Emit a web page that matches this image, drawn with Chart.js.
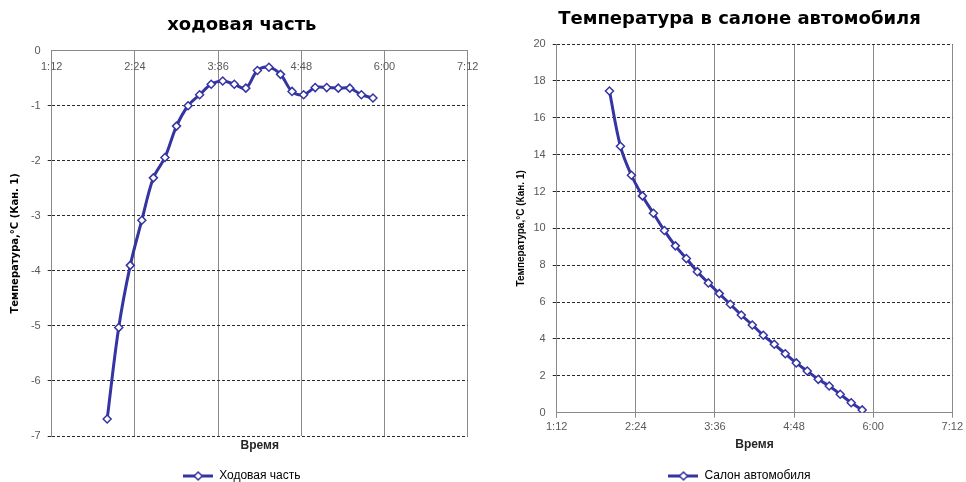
<!DOCTYPE html>
<html>
<head>
<meta charset="utf-8">
<script src="https://cdn.jsdelivr.net/npm/chart.js@4/dist/chart.umd.min.js"></script>
<style>
  html, body { margin: 0; padding: 0; background: #fff; }
  #wrap { position: relative; width: 966px; height: 482px; }
  canvas { position: absolute; top: 0; }
</style>
</head>
<body>
<div id="wrap">
  <canvas id="chassis" width="483" height="482" style="left:0"></canvas>
  <canvas id="cabin" width="483" height="482" style="left:483px"></canvas>
</div>
<script>
// time of each reading, h:mm
const times = ['2:00', '2:10', '2:20', '2:30', '2:40', '2:50', '3:00', '3:10',
  '3:20', '3:30', '3:40', '3:50', '4:00', '4:10', '4:20', '4:30',
  '4:40', '4:50', '5:00', '5:10', '5:20', '5:30', '5:40', '5:50'];

// Ходовая часть, °C
const chassisTemp = [-6.69, -5.03, -3.90, -3.08, -2.31, -1.94, -1.37, -1.00,
  -0.80, -0.61, -0.55, -0.61, -0.68, -0.36, -0.30, -0.43,
  -0.74, -0.80, -0.67, -0.67, -0.68, -0.68, -0.80, -0.86];

// Салон автомобиля, °C
const cabinTemp = [17.45, 14.45, 12.88, 11.76, 10.82, 9.88, 9.05, 8.36,
  7.65, 7.04, 6.46, 5.88, 5.30, 4.76, 4.20, 3.71,
  3.20, 2.70, 2.26, 1.81, 1.45, 1.00, 0.54, 0.15];

// x axis ticks (minutes 72..432, every 72)
const tickLabels = ['1:12', '2:24', '3:36', '4:48', '6:00', '7:12'];

const FONT = "'Liberation Sans', Arial, sans-serif";
const WIDE = "'DejaVu Sans', Verdana, sans-serif";
const BLUE = '#3434a2';
const GRID = '#8a8a8a';
const DASH = '#2a2a2a';
const TICK = '#595959';

Chart.defaults.font.family = FONT;

function toMinutes(t) {
  const p = t.split(':');
  return Number(p[0]) * 60 + Number(p[1]);
}

function points(values) {
  return times.map((t, i) => ({ x: toMinutes(t), y: values[i] }));
}

// legend icon: line with a diamond marker
const legendIcon = document.createElement('canvas');
legendIcon.width = 30;
legendIcon.height = 12;
(function () {
  const c = legendIcon.getContext('2d');
  c.strokeStyle = BLUE;
  c.lineWidth = 3;
  c.beginPath(); c.moveTo(0, 6); c.lineTo(30, 6); c.stroke();
  c.fillStyle = '#fff';
  c.lineWidth = 1.5;
  c.beginPath();
  c.moveTo(15, 2); c.lineTo(19, 6); c.lineTo(15, 10); c.lineTo(11, 6); c.closePath();
  c.fill(); c.stroke();
})();

function dataset(label, values) {
  return {
    label: label,
    data: points(values),
    borderColor: BLUE,
    borderWidth: 3,
    tension: 0.35,
    pointStyle: 'rectRot',
    pointRadius: 4,
    pointBorderWidth: 1.5,
    pointBackgroundColor: '#fff',
    pointBorderColor: BLUE
  };
}

function legend(pad) {
  return {
    position: 'bottom',
    labels: {
      usePointStyle: true,
      pointStyleWidth: 30,
      padding: pad,
      color: '#404040',
      font: { size: 12 },
      generateLabels: chart => chart.data.datasets.map((ds, i) => ({
        text: ds.label,
        pointStyle: legendIcon,
        fillStyle: '#fff',
        strokeStyle: BLUE,
        lineWidth: 0,
        hidden: false,
        datasetIndex: i
      }))
    }
  };
}

const yTitle = 'Температура,°C (Кан. 1)';
const tickFont = { size: 11 };
const titleFont = { family: WIDE, size: 18, weight: 'bold' };
const xTitleFont = { size: 12, weight: 'bold' };

// left chart
new Chart(document.getElementById('chassis'), {
  type: 'line',
  data: { datasets: [dataset('Ходовая часть', chassisTemp)] },
  options: {
    responsive: false,
    animation: false,
    layout: { padding: { left: 16, right: 15.3, top: 0, bottom: -10 } },
    plugins: {
      title: {
        display: true, text: 'ходовая часть', color: '#000',
        font: titleFont,
        padding: { top: 14.5, bottom: 14.6 }
      },
      legend: legend(14),
      tooltip: { enabled: false }
    },
    scales: {
      x: {
        // labels sit just under the axis line at 0, inside the plot
        type: 'linear', position: 'top', min: 72, max: 432,
        ticks: { stepSize: 72, padding: 9.3, mirror: true, color: TICK, font: tickFont,
          maxRotation: 0, callback: (v, i) => tickLabels[i] },
        grid: { display: false },
        border: { display: true, color: GRID },
        afterFit: s => { s.height = 0; s.paddingLeft = 0; s.paddingRight = 0; }
      },
      x2: {
        type: 'linear', position: 'bottom', min: 72, max: 432,
        ticks: { stepSize: 72, display: false },
        grid: { color: GRID, drawTicks: false },
        border: { display: false },
        title: { display: true, text: 'Время', color: '#262626',
          font: xTitleFont, padding: { top: 0, bottom: 2.8 } },
        afterFit: s => { s.height = 20; }
      },
      y: {
        min: -7, max: 0,
        ticks: { stepSize: 1, padding: 7, color: TICK, font: tickFont },
        grid: { color: c => (c.tick && c.tick.value === 0) ? 'transparent' : DASH, tickLength: 4 },
        border: { color: GRID, dash: [3, 2] },
        title: { display: true, text: yTitle, color: '#000',
          font: { family: WIDE, size: 10, weight: 'bold' }, padding: { top: -7, bottom: 0 } },
        afterFit: s => { s.width = 35.7; }
      }
    }
  }
});

// right chart
new Chart(document.getElementById('cabin'), {
  type: 'line',
  data: { datasets: [dataset('Салон автомобиля', cabinTemp)] },
  options: {
    responsive: false,
    animation: false,
    layout: { padding: { left: 43, right: 13, top: 0, bottom: -10 } },
    plugins: {
      title: {
        display: true, text: 'Температура в салоне автомобиля', color: '#000',
        font: titleFont,
        padding: { top: 8.2, bottom: 14.2 }
      },
      legend: legend(17.3),
      tooltip: { enabled: false }
    },
    scales: {
      x: {
        type: 'linear', position: 'bottom', min: 72, max: 432,
        ticks: { stepSize: 72, padding: 3, color: TICK, font: tickFont,
          maxRotation: 0, callback: (v, i) => tickLabels[i] },
        grid: { color: GRID, tickLength: 5 },
        border: { color: GRID },
        title: { display: true, text: 'Время', color: '#262626',
          font: xTitleFont, padding: { top: 0, bottom: 0.5 } },
        afterFit: s => { s.height = 40; }
      },
      y: {
        min: 0, max: 20,
        ticks: { stepSize: 2, padding: 7, color: TICK, font: tickFont },
        grid: { color: c => (c.tick && c.tick.value === 0) ? 'transparent' : DASH, tickLength: 4 },
        border: { color: GRID, dash: [3, 2] },
        title: { display: true, text: yTitle, color: '#000',
          font: { size: 10, weight: 'bold' }, padding: { top: -11, bottom: 0 } },
        afterFit: s => { s.width = 30.7; }
      }
    }
  }
});
</script>
</body>
</html>
